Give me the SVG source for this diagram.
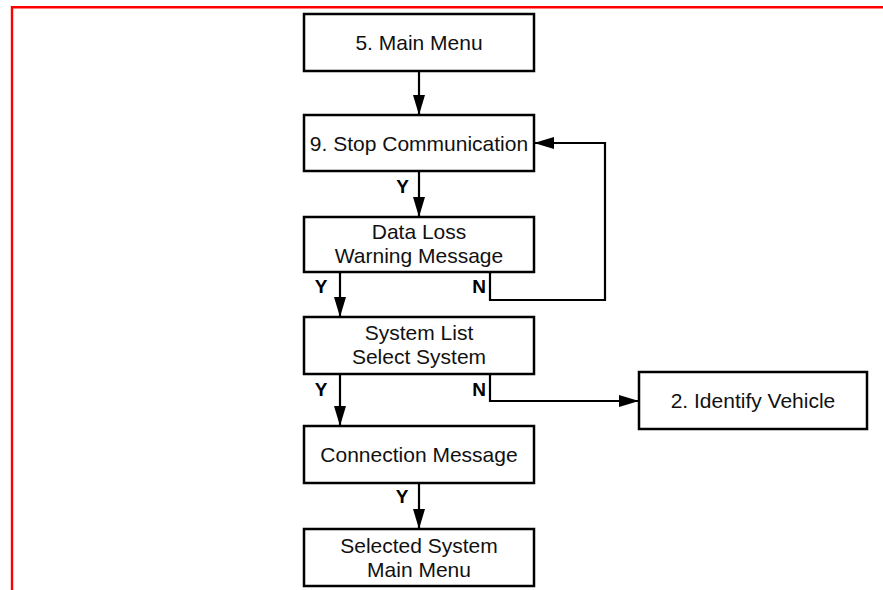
<svg xmlns="http://www.w3.org/2000/svg" width="883" height="590" viewBox="0 0 883 590">
<defs>
<marker id="ah" markerUnits="userSpaceOnUse" markerWidth="20" markerHeight="12" refX="20" refY="6" orient="auto">
<path d="M0,0 L20,6 L0,12 z" fill="#000"/>
</marker>
<style>
.box{fill:#fff;stroke:#000;stroke-width:2.5}
.t{font-family:"Liberation Sans",Arial,sans-serif;font-size:21px;fill:#111;text-anchor:middle}
.lb{font-family:"Liberation Sans",Arial,sans-serif;font-size:19px;font-weight:bold;fill:#000;text-anchor:middle}
.c{fill:none;stroke:#000;stroke-width:2.2}
</style>
</defs>
<rect width="883" height="590" fill="#fff"/>
<path d="M12,590 V7.3 H883" fill="none" stroke="#ff0000" stroke-width="2.4"/>
<g id="connectors">
<path class="c" d="M419,71 V115" marker-end="url(#ah)"/>
<path class="c" d="M419,171 V217" marker-end="url(#ah)"/>
<path class="c" d="M340,272 V317" marker-end="url(#ah)"/>
<path class="c" d="M490,272 V300 H605 V143 H534" marker-end="url(#ah)"/>
<path class="c" d="M340,374 V426" marker-end="url(#ah)"/>
<path class="c" d="M490,374 V401 H639" marker-end="url(#ah)"/>
<path class="c" d="M419,483 V529" marker-end="url(#ah)"/>
<text class="lb" x="402.5" y="193">Y</text>
<text class="lb" x="321" y="293">Y</text>
<text class="lb" x="479" y="293">N</text>
<text class="lb" x="321" y="396">Y</text>
<text class="lb" x="479" y="396">N</text>
<text class="lb" x="402" y="503">Y</text>
</g>
<g id="main-menu">
<rect class="box" x="304" y="14" width="230" height="57"/>
<text class="t" x="419" y="50">5. Main Menu</text>
</g>
<g id="stop-communication">
<rect class="box" x="304" y="115" width="230" height="56"/>
<text class="t" x="419" y="150.5">9. Stop Communication</text>
</g>
<g id="data-loss">
<rect class="box" x="304" y="217" width="230" height="55"/>
<text class="t" x="419" y="239">Data Loss</text>
<text class="t" x="419" y="262.5">Warning Message</text>
</g>
<g id="system-list">
<rect class="box" x="304" y="317" width="230" height="57"/>
<text class="t" x="419" y="340">System List</text>
<text class="t" x="419" y="364">Select System</text>
</g>
<g id="identify-vehicle">
<rect class="box" x="639" y="372" width="228" height="57"/>
<text class="t" x="753" y="408">2. Identify Vehicle</text>
</g>
<g id="connection-message">
<rect class="box" x="304" y="426" width="230" height="57"/>
<text class="t" x="419" y="461.5">Connection Message</text>
</g>
<g id="selected-system">
<rect class="box" x="304" y="529" width="230" height="57"/>
<text class="t" x="419" y="553">Selected System</text>
<text class="t" x="419" y="576.5">Main Menu</text>
</g>
</svg>
